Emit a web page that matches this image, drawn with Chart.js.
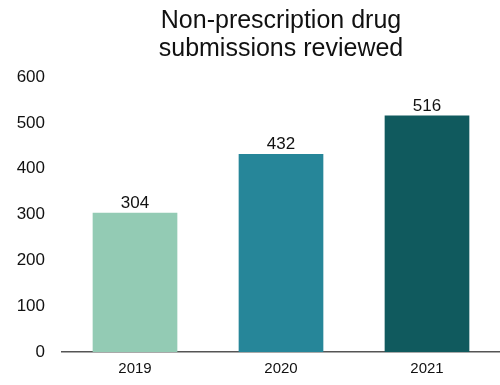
<!DOCTYPE html>
<html>
<head>
<meta charset="utf-8">
<script src="https://cdn.jsdelivr.net/npm/chart.js@4"></script>
<style>
html,body{margin:0;padding:0;background:#fff;}
#wrap{width:500px;height:385px;}
</style>
</head>
<body>
<div id="wrap"><canvas id="c" width="500" height="385"></canvas></div>
<script>
const titleLines = ["Non-prescription drug", "submissions reviewed"];
const categories = ["2019", "2020", "2021"];
const submissions = [304, 432, 516];
const barColors = ["#93cbb4", "#268699", "#105a5e"];
const yTicks = [0, 100, 200, 300, 400, 500, 600];

const FONT = "'Liberation Sans', Arial, Helvetica, sans-serif";

const titlePlugin = {
  id: 'centeredTitle',
  afterDraw(chart) {
    const ctx = chart.ctx;
    const a = chart.chartArea;
    const cx = (a.left + a.right) / 2;
    ctx.save();
    ctx.fillStyle = '#111';
    ctx.font = "25px " + FONT;
    ctx.textAlign = 'center';
    ctx.textBaseline = 'alphabetic';
    titleLines.forEach((t, i) => ctx.fillText(t, cx, 28 + i * 28));
    ctx.restore();
  }
};

const valueLabels = {
  id: 'valueLabels',
  afterDatasetsDraw(chart) {
    const ctx = chart.ctx;
    const meta = chart.getDatasetMeta(0);
    ctx.save();
    ctx.fillStyle = '#111';
    ctx.font = "17px " + FONT;
    ctx.textAlign = 'center';
    ctx.textBaseline = 'alphabetic';
    meta.data.forEach((bar, i) => {
      ctx.fillText(String(chart.data.datasets[0].data[i]), bar.x, bar.y - 5);
    });
    ctx.restore();
  }
};

new Chart(document.getElementById('c'), {
  type: 'bar',
  data: {
    labels: categories,
    datasets: [{
      data: submissions,
      backgroundColor: barColors,
      borderWidth: 0,
      categoryPercentage: 1,
      barPercentage: 0.58
    }]
  },
  options: {
    responsive: false,
    animation: false,
    layout: { padding: { top: 77, right: 0, bottom: 0, left: 0 } },
    plugins: { legend: { display: false }, title: { display: false }, tooltip: { enabled: false } },
    scales: {
      x: {
        grid: { display: false, drawTicks: false },
        border: { display: true, color: '#555', width: 1.5 },
        ticks: { color: '#111', font: { family: FONT, size: 15 }, padding: 8 },
        afterFit(s) { s.height = 33; }
      },
      y: {
        min: 0, max: 600,
        afterBuildTicks(s) { s.ticks = yTicks.map(v => ({ value: v })); },
        grid: { display: false, drawTicks: false },
        border: { display: false },
        ticks: { color: '#111', font: { family: FONT, size: 17 }, padding: 17 },
        afterFit(s) { s.width = 62; }
      }
    }
  },
  plugins: [titlePlugin, valueLabels]
});
</script>
</body>
</html>
